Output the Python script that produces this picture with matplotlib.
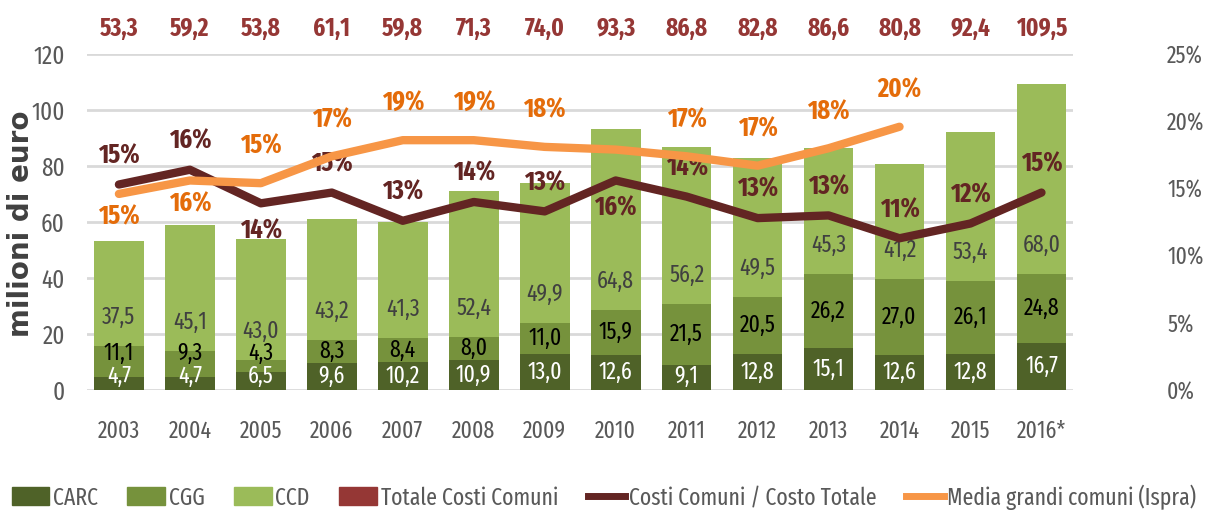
import numpy as np
import matplotlib.pyplot as plt
from matplotlib.patches import Patch
from matplotlib.lines import Line2D

plt.rcParams['font.family'] = ['Fira Sans Extra Condensed', 'DejaVu Sans']

years = ['2003', '2004', '2005', '2006', '2007', '2008', '2009', '2010',
         '2011', '2012', '2013', '2014', '2015', '2016*']
carc = [4.7, 4.7, 6.5, 9.6, 10.2, 10.9, 13.0, 12.6, 9.1, 12.8, 15.1, 12.6, 12.8, 16.7]
cgg = [11.1, 9.3, 4.3, 8.3, 8.4, 8.0, 11.0, 15.9, 21.5, 20.5, 26.2, 27.0, 26.1, 24.8]
ccd = [37.5, 45.1, 43.0, 43.2, 41.3, 52.4, 49.9, 64.8, 56.2, 49.5, 45.3, 41.2, 53.4, 68.0]
totale = [53.3, 59.2, 53.8, 61.1, 59.8, 71.3, 74.0, 93.3, 86.8, 82.8, 86.6, 80.8, 92.4, 109.5]

# Costi Comuni / Costo Totale (%)
quota = [15.3, 16.4, 13.9, 14.7, 12.6, 14.0, 13.3, 15.6, 14.4, 12.8, 13.0, 11.3, 12.4, 14.7]
quota_pos = ['a', 'a', 'b', 'a', 'a', 'a', 'a', 'b', 'a', 'a', 'a', 'a', 'a', 'a']
# Media grandi comuni (Ispra) (%), no data for 2015-2016
ispra = [14.6, 15.6, 15.4, 17.4, 18.6, 18.6, 18.1, 17.9, 17.4, 16.7, 18.0, 19.6]
ispra_show = [True] * 7 + [False] + [True] * 4
ispra_pos = ['b', 'b', 'a', 'a', 'a', 'a', 'a', 'a', 'a', 'a', 'a', 'a']

c_carc = '#4F6228'
c_cgg = '#76923C'
c_ccd = '#9BBB59'
c_tot = '#953735'
c_quota = '#632523'
c_ispra = '#F79646'
c_ispra_txt = '#E46C0A'
grey = '#595959'

def fmt(v):
    return f'{v:.1f}'.replace('.', ',')

x = np.arange(len(years))
carc = np.array(carc)
cgg = np.array(cgg)
ccd = np.array(ccd)

fig = plt.figure(figsize=(12.08, 5.16), dpi=100)
ax = fig.add_axes([0.072, 0.244, 0.816, 0.651])
ax.set_axisbelow(True)

w = 0.70
ax.bar(x, carc, w, color=c_carc, zorder=2)
ax.bar(x, cgg, w, bottom=carc, color=c_cgg, zorder=2)
ax.bar(x, ccd, w, bottom=carc + cgg, color=c_ccd, zorder=2)

ax.set_xlim(-0.45, 13.44)
ax.set_ylim(0, 120)
ax.set_yticks(range(0, 121, 20))
ax.yaxis.grid(True, color='#D9D9D9', lw=2)
for s in ax.spines.values():
    s.set_visible(False)
ax.tick_params(axis='y', length=0, pad=16, labelsize=18, labelcolor=grey)
ax.tick_params(axis='x', length=0, pad=21, labelsize=17, labelcolor=grey)
ax.set_xticks(x)
ax.set_xticklabels(years)

# segment labels
for i in range(len(years)):
    yc = max(carc[i] / 2, 5.0)
    ax.text(x[i], yc, fmt(carc[i]), ha='center', va='center', color='white',
            fontsize=17, zorder=3)
    yg = max(carc[i] + cgg[i] / 2, yc + 8.2)
    ax.text(x[i], yg, fmt(cgg[i]), ha='center', va='center', color='black',
            fontsize=17, zorder=3)
    ax.annotate(fmt(ccd[i]), (x[i], carc[i] + cgg[i]), xytext=(0, 29),
                textcoords='offset pixels', ha='center', va='center',
                color='#404040', fontsize=17, zorder=3)
    ax.text(x[i], 128.9, fmt(totale[i]), ha='center', va='center', color=c_tot,
            fontsize=18, fontweight='bold', clip_on=False)

ax2 = ax.twinx()
ax2.set_ylim(0, 25)
ax2.set_yticks(range(0, 26, 5))
ax2.set_yticklabels([f'{v}%' for v in range(0, 26, 5)])
for s in ax2.spines.values():
    s.set_visible(False)
ax2.tick_params(axis='y', length=0, pad=68, labelsize=17, labelcolor=grey)

ax2.plot(x, quota, color=c_quota, lw=6, solid_capstyle='round', solid_joinstyle='round', zorder=4)
ax2.plot(x[:len(ispra)], ispra, color=c_ispra, lw=6, solid_capstyle='round',
         solid_joinstyle='round', zorder=4)

for i, v in enumerate(quota):
    off = 29 if quota_pos[i] == 'a' else -27
    ax2.annotate(f'{round(v)}%', (x[i], v), xytext=(0, off), textcoords='offset pixels',
                 ha='center', va='center', color=c_quota, fontsize=19, fontweight='bold')
for i, v in enumerate(ispra):
    if not ispra_show[i]:
        continue
    off = 37 if ispra_pos[i] == 'a' else -23
    ax2.annotate(f'{round(v)}%', (x[i], v), xytext=(0, off), textcoords='offset pixels',
                 ha='center', va='center', color=c_ispra_txt, fontsize=19, fontweight='bold')

fig.text(0.017, 0.566, 'milioni di euro', rotation=90, ha='center', va='center',
         fontsize=20, fontweight='bold', color='#404040', family='DejaVu Sans')

handles = [Patch(color=c_carc), Patch(color=c_cgg), Patch(color=c_ccd), Patch(color=c_tot),
           Line2D([], [], color=c_quota, lw=5), Line2D([], [], color=c_ispra, lw=5)]
labels = ['CARC', 'CGG', 'CCD', 'Totale Costi Comuni', 'Costi Comuni / Costo Totale',
          'Media grandi comuni (Ispra)']
fig.legend(handles, labels, loc='center', bbox_to_anchor=(0.5, 0.037), ncol=6,
           frameon=False, fontsize=17, handlelength=1.6, handleheight=0.8,
           handletextpad=0.15, columnspacing=1.25, labelcolor=grey)

fig.savefig('out.png', dpi=100)
